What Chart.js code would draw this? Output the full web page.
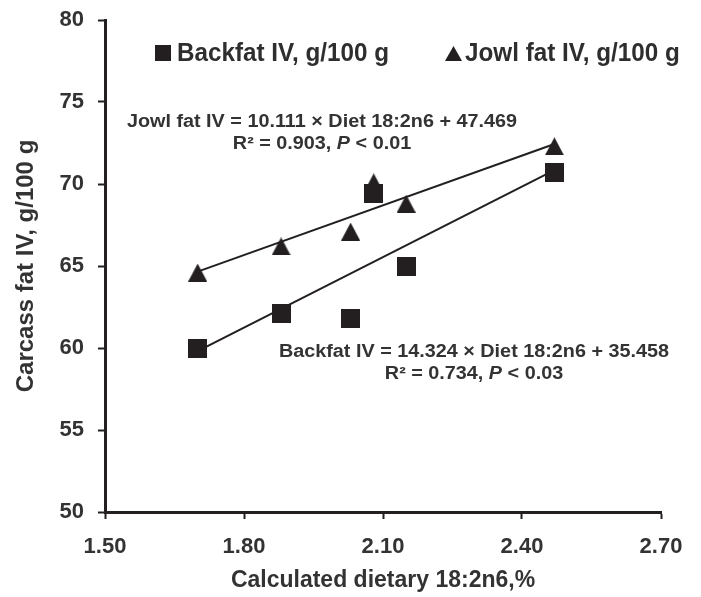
<!DOCTYPE html>
<html>
<head>
<meta charset="utf-8">
<script src="https://cdn.jsdelivr.net/npm/chart.js@4/dist/chart.umd.min.js"></script>
<style>
  html, body { margin: 0; padding: 0; background: #fff; }
  #wrap { position: relative; width: 701px; height: 597px; font-family: 'Liberation Sans', Arial, sans-serif; color: #2e2e2e; }
  #wrap canvas { position: absolute; left: 0; top: 0; }
  .note { position: absolute; white-space: nowrap; font-weight: bold; }
  .legend { font-size: 25px; line-height: 28px; top: 38px; transform: scaleX(0.97); transform-origin: left center; }
  .mark { position: absolute; width: 16px; height: 16px; background: #231f20; top: 45px; }
  .tri { clip-path: polygon(50% 0, 100% 100%, 0 100%); width: 17px; height: 15px; top: 46px; }
  .eq { font-size: 18px; text-align: center; line-height: 22px; color: #333; width: 392px; transform: scaleX(1.1); transform-origin: center center; }
</style>
</head>
<body>
<div id="wrap">
  <canvas id="chart" width="701" height="597"></canvas>
  <span class="mark" style="left:155px"></span>
  <div class="note legend" style="left:177px">Backfat IV, g/100 g</div>
  <span class="mark tri" style="left:445px"></span>
  <div class="note legend" style="left:465px">Jowl fat IV, g/100 g</div>
  <div class="note eq" style="left:126px; top:110px">Jowl fat IV = 10.111 × Diet 18:2n6 + 47.469<br>R² = 0.903, <i>P</i> &lt; 0.01</div>
  <div class="note eq" style="left:278px; top:340px">Backfat IV = 14.324 × Diet 18:2n6 + 35.458<br>R² = 0.734, <i>P</i> &lt; 0.03</div>
</div>
<script>
// calculated dietary 18:2n6 (%) for the six diets
const dietLinoleic = [1.70, 1.88, 2.03, 2.08, 2.15, 2.47];
const backfatIV = [60.0, 62.1, 61.8, 69.4, 65.0, 70.7];
const jowlFatIV = [64.6, 66.2, 67.1, 70.1, 68.8, 72.3];

// regression line end points
const fitX = [1.70, 2.47];
const jowlFitY = [64.66, 72.44];
const backfatFitY = [59.81, 70.84];

const xTicks = [1.5, 1.8, 2.1, 2.4, 2.7];
const yTicks = [50, 55, 60, 65, 70, 75, 80];

const toXY = (xs, ys) => xs.map((x, i) => ({ x, y: ys[i] }));
const ink = '#231f20';
const textCol = '#333';

// marker images so the box of each marker sits centred on its value
function marker(shape, w, h) {
  const c = document.createElement('canvas');
  c.width = w; c.height = h;
  const g = c.getContext('2d');
  g.fillStyle = ink;
  if (shape === 'square') {
    g.fillRect(0, 0, w, h);
  } else {
    g.beginPath();
    g.moveTo(w / 2, 0);
    g.lineTo(w, h);
    g.lineTo(0, h);
    g.closePath();
    g.fill();
  }
  return c;
}
const squareMark = marker('square', 19, 19);
const triangleMark = marker('triangle', 19, 18);

Chart.defaults.font.family = "'Liberation Sans', Arial, sans-serif";
Chart.defaults.font.weight = 'bold';

new Chart(document.getElementById('chart'), {
  type: 'scatter',
  data: {
    datasets: [
      {
        label: 'Jowl fit',
        data: toXY(fitX, jowlFitY),
        showLine: true,
        borderColor: ink,
        borderWidth: 2,
        pointRadius: 0,
        fill: false
      },
      {
        label: 'Backfat fit',
        data: toXY(fitX, backfatFitY),
        showLine: true,
        borderColor: ink,
        borderWidth: 2,
        pointRadius: 0,
        fill: false
      },
      {
        label: 'Backfat IV, g/100 g',
        data: toXY(dietLinoleic, backfatIV),
        pointStyle: squareMark,
        pointRadius: 10
      },
      {
        label: 'Jowl fat IV, g/100 g',
        data: toXY(dietLinoleic, jowlFatIV),
        pointStyle: triangleMark,
        pointRadius: 10
      }
    ]
  },
  options: {
    responsive: false,
    animation: false,
    layout: { autoPadding: false, padding: { top: 20, right: 40, left: 0, bottom: 0 } },
    plugins: {
      legend: { display: false },
      tooltip: { enabled: false }
    },
    scales: {
      x: {
        type: 'linear',
        min: 1.5,
        max: 2.7,
        afterFit: s => { s.height = 85; },
        afterBuildTicks: s => { s.ticks = xTicks.map(v => ({ value: v })); },
        ticks: {
          color: textCol,
          font: { size: 22, weight: 'bold' },
          padding: 15,
          callback: v => Number(v).toFixed(2)
        },
        grid: { drawOnChartArea: false, drawTicks: true, tickLength: 7, tickColor: ink, tickWidth: 2 },
        border: { display: true, color: ink, width: 3 },
        title: {
          display: true,
          text: 'Calculated dietary 18:2n6,%',
          color: textCol,
          font: { size: 23, weight: 'bold' },
          padding: { top: 0, bottom: 3 }
        }
      },
      y: {
        type: 'linear',
        min: 50,
        max: 80,
        afterFit: s => { s.width = 105; s.paddingTop = 0; s.paddingBottom = 0; },
        afterBuildTicks: s => { s.ticks = yTicks.map(v => ({ value: v })); },
        ticks: {
          color: textCol,
          font: { size: 22, weight: 'bold' },
          padding: 14
        },
        grid: { drawOnChartArea: false, drawTicks: true, tickLength: 7, tickColor: ink, tickWidth: 2 },
        border: { display: true, color: ink, width: 3 },
        title: {
          display: true,
          text: 'Carcass fat IV, g/100 g',
          color: textCol,
          font: { size: 24, weight: 'bold' },
          padding: { top: 12, bottom: 0 }
        }
      }
    }
  }
});
</script>
</body>
</html>
